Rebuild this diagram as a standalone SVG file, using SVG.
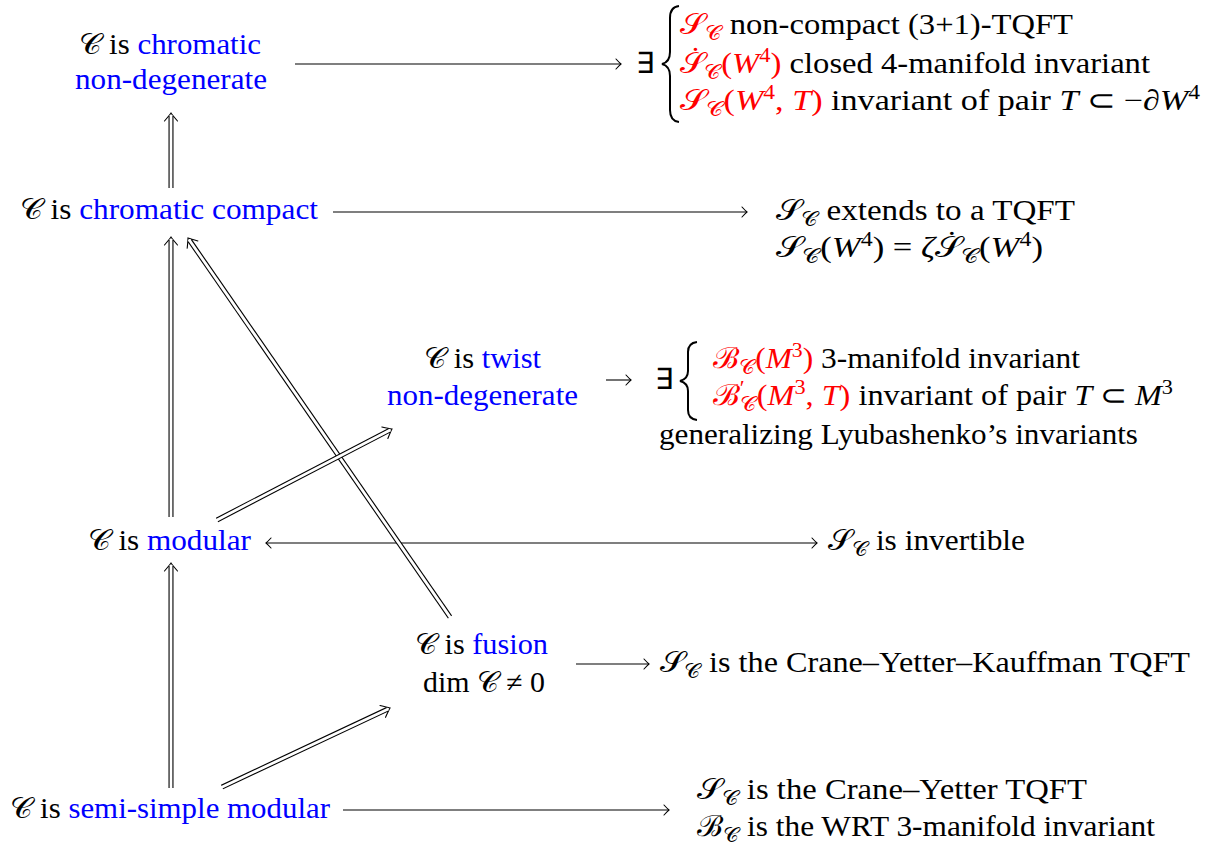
<svg xmlns="http://www.w3.org/2000/svg" width="1212" height="844" viewBox="0 0 1212 844" font-family="Liberation Serif, Times New Roman, serif">
<style>
.t{font-size:29px;fill:#000}
.b{fill:#0000ff}.r{fill:#ff0000}.i{font-style:italic}
.s{font-size:20px}
.ln{stroke:#000;stroke-width:1.1;fill:none}
.dbo{stroke:#000;stroke-width:5;fill:none}
.dbi{stroke:#fff;stroke-width:2.8;fill:none}
.br{stroke:#000;stroke-width:2;fill:none}
</style>
<defs>
<marker id="h" markerUnits="userSpaceOnUse" markerWidth="14" markerHeight="14" refX="0" refY="0" viewBox="-8 -7 10 14" orient="auto" overflow="visible">
<path d="M-5,-5 Q-1.5,-1.2 0,0 Q-1.5,1.2 -5,5" stroke="#000" stroke-width="1.1" fill="none" stroke-linecap="round"/>
</marker>
<marker id="hs" markerUnits="userSpaceOnUse" markerWidth="14" markerHeight="14" refX="0" refY="0" viewBox="-8 -7 10 14" orient="auto-start-reverse" overflow="visible">
<path d="M-5,-5 Q-1.5,-1.2 0,0 Q-1.5,1.2 -5,5" stroke="#000" stroke-width="1.1" fill="none" stroke-linecap="round"/>
</marker>
<marker id="dh" markerUnits="userSpaceOnUse" markerWidth="20" markerHeight="20" refX="-3" refY="0" viewBox="-12 -10 16 20" orient="auto" overflow="visible">
<path d="M-8,-6.5 Q-2.5,-1.8 0,0 Q-2.5,1.8 -8,6.5" stroke="#000" stroke-width="1.1" fill="none" stroke-linecap="round"/>
</marker>
</defs>

<g id="connectors">
<line class="ln" x1="295" y1="64" x2="621" y2="64" marker-end="url(#h)"/>
<line class="ln" x1="333" y1="212" x2="747" y2="212" marker-end="url(#h)"/>
<line class="ln" x1="606" y1="380" x2="631" y2="380" marker-end="url(#h)"/>
<line class="ln" x1="266" y1="543" x2="817" y2="543" marker-start="url(#hs)" marker-end="url(#hs)"/>
<line class="ln" x1="576" y1="664" x2="649" y2="664" marker-end="url(#h)"/>
<line class="ln" x1="343" y1="810" x2="669" y2="810" marker-end="url(#h)"/>
<g id="dA"><line class="dbo" x1="171" y1="188" x2="171" y2="116" marker-end="url(#dh)"/><line class="dbi" x1="171" y1="190" x2="171" y2="115"/></g>
<g id="dB"><line class="dbo" x1="171" y1="517" x2="171" y2="240" marker-end="url(#dh)"/><line class="dbi" x1="171" y1="519" x2="171" y2="239"/></g>
<g id="dC"><line class="dbo" x1="450" y1="617" x2="189.7" y2="240.5" marker-end="url(#dh)"/><line class="dbi" x1="451.1" y1="618.6" x2="189.1" y2="239.7"/></g>
<g id="dD"><line class="dbo" x1="217" y1="520" x2="389.3" y2="430.4" marker-end="url(#dh)"/><line class="dbi" x1="215.2" y1="520.9" x2="390.2" y2="429.9"/></g>
<g id="dE"><line class="dbo" x1="171" y1="788" x2="171" y2="566" marker-end="url(#dh)"/><line class="dbi" x1="171" y1="790" x2="171" y2="565"/></g>
<g id="dF"><line class="dbo" x1="222" y1="787" x2="387.3" y2="709.3" marker-end="url(#dh)"/><line class="dbi" x1="220.2" y1="787.9" x2="388.2" y2="708.9"/></g>
</g>

<g id="n-chromatic-nondeg">
<text class="t" font-family="Liberation Serif, Times New Roman, serif" x="79" y="54" textLength="182" lengthAdjust="spacingAndGlyphs">𝒞 is <tspan class="b">chromatic</tspan></text>
<text class="t b" font-family="Liberation Serif, Times New Roman, serif" x="75" y="89" textLength="192" lengthAdjust="spacingAndGlyphs">non-degenerate</text>
</g>
<g id="r-chromatic-nondeg">
<text class="t" font-family="Liberation Serif, Times New Roman, serif" x="636" y="73">∃</text>
<path class="br" d="M679,6 Q670,7 670,18 L670,52 Q670,62 662,64 Q670,66 670,76 L670,110 Q670,121 679,122"/>
<text class="t" font-family="Liberation Serif, Times New Roman, serif" x="680" y="34" textLength="393" lengthAdjust="spacingAndGlyphs"><tspan class="r">𝒮<tspan class="s" dy="6">𝒞</tspan></tspan><tspan dy="-6"> non-compact (3+1)-TQFT</tspan></text>
<text class="t" font-family="Liberation Serif, Times New Roman, serif" x="680" y="73" textLength="470" lengthAdjust="spacingAndGlyphs"><tspan class="r">𝒮<tspan dx="-13" dy="-5">˙</tspan><tspan class="s" dx="3" dy="11">𝒞</tspan><tspan dy="-6">(</tspan><tspan class="i">W</tspan><tspan class="s" dy="-11">4</tspan><tspan dy="11">)</tspan></tspan> closed 4-manifold invariant</text>
<text class="t" font-family="Liberation Serif, Times New Roman, serif" x="680" y="110" textLength="520" lengthAdjust="spacingAndGlyphs"><tspan class="r">𝒮<tspan class="s" dy="6">𝒞</tspan><tspan dy="-6">(</tspan><tspan class="i">W</tspan><tspan class="s" dy="-11">4</tspan><tspan dy="11">, </tspan><tspan class="i">T</tspan>)</tspan> invariant of pair <tspan class="i">T</tspan> ⊂ −∂<tspan class="i">W</tspan><tspan class="s" dy="-11">4</tspan></text>
</g>

<g id="n-chromatic-compact">
<text class="t" font-family="Liberation Serif, Times New Roman, serif" x="20" y="219" textLength="298" lengthAdjust="spacingAndGlyphs">𝒞 is <tspan class="b">chromatic compact</tspan></text>
</g>
<g id="r-chromatic-compact">
<text class="t" font-family="Liberation Serif, Times New Roman, serif" x="776" y="220" textLength="299" lengthAdjust="spacingAndGlyphs">𝒮<tspan class="s" dy="6">𝒞</tspan><tspan dy="-6"> extends to a TQFT</tspan></text>
<text class="t" font-family="Liberation Serif, Times New Roman, serif" x="776" y="257" textLength="267" lengthAdjust="spacingAndGlyphs">𝒮<tspan class="s" dy="6">𝒞</tspan><tspan dy="-6">(</tspan><tspan class="i">W</tspan><tspan class="s" dy="-11">4</tspan><tspan dy="11">) = </tspan><tspan class="i">ζ</tspan>𝒮<tspan dx="-13" dy="-5">˙</tspan><tspan class="s" dx="3" dy="11">𝒞</tspan><tspan dy="-6">(</tspan><tspan class="i">W</tspan><tspan class="s" dy="-11">4</tspan><tspan dy="11">)</tspan></text>
</g>

<g id="n-twist">
<text class="t" font-family="Liberation Serif, Times New Roman, serif" x="424" y="368" textLength="117" lengthAdjust="spacingAndGlyphs">𝒞 is <tspan class="b">twist</tspan></text>
<text class="t b" font-family="Liberation Serif, Times New Roman, serif" x="387" y="405" textLength="191" lengthAdjust="spacingAndGlyphs">non-degenerate</text>
</g>
<g id="r-twist">
<text class="t" font-family="Liberation Serif, Times New Roman, serif" x="655" y="389">∃</text>
<path class="br" d="M697,342 Q688,343 688,352 L688,371 Q688,379 680,381 Q688,383 688,391 L688,410 Q688,419 697,420"/>
<text class="t" font-family="Liberation Serif, Times New Roman, serif" x="713" y="368" textLength="367" lengthAdjust="spacingAndGlyphs"><tspan class="r">ℬ<tspan class="s" dy="6">𝒞</tspan><tspan dy="-6">(</tspan><tspan class="i">M</tspan><tspan class="s" dy="-11">3</tspan><tspan dy="11">)</tspan></tspan> 3-manifold invariant</text>
<text class="t" font-family="Liberation Serif, Times New Roman, serif" x="713" y="405" textLength="460" lengthAdjust="spacingAndGlyphs"><tspan class="r">ℬ<tspan class="s" dy="-10">′</tspan><tspan class="s" dx="-4" dy="16">𝒞</tspan><tspan dy="-6">(</tspan><tspan class="i">M</tspan><tspan class="s" dy="-11">3</tspan><tspan dy="11">, </tspan><tspan class="i">T</tspan>)</tspan> invariant of pair <tspan class="i">T</tspan> ⊂ <tspan class="i">M</tspan><tspan class="s" dy="-11">3</tspan></text>
<text class="t" font-family="Liberation Serif, Times New Roman, serif" x="659" y="444" textLength="479" lengthAdjust="spacingAndGlyphs">generalizing Lyubashenko’s invariants</text>
</g>

<g id="n-modular">
<text class="t" font-family="Liberation Serif, Times New Roman, serif" x="88" y="550" textLength="163" lengthAdjust="spacingAndGlyphs">𝒞 is <tspan class="b">modular</tspan></text>
</g>
<g id="r-modular">
<text class="t" font-family="Liberation Serif, Times New Roman, serif" x="828" y="550" textLength="197" lengthAdjust="spacingAndGlyphs">𝒮<tspan class="s" dy="6">𝒞</tspan><tspan dy="-6"> is invertible</tspan></text>
</g>

<g id="n-fusion">
<text class="t" font-family="Liberation Serif, Times New Roman, serif" x="415" y="654" textLength="133" lengthAdjust="spacingAndGlyphs">𝒞 is <tspan class="b">fusion</tspan></text>
<text class="t" font-family="Liberation Serif, Times New Roman, serif" x="423" y="692" textLength="122" lengthAdjust="spacingAndGlyphs">dim 𝒞 ≠ 0</text>
</g>
<g id="r-fusion">
<text class="t" font-family="Liberation Serif, Times New Roman, serif" x="660" y="672" textLength="530" lengthAdjust="spacingAndGlyphs">𝒮<tspan class="s" dy="6">𝒞</tspan><tspan dy="-6"> is the Crane–Yetter–Kauffman TQFT</tspan></text>
</g>

<g id="n-semisimple">
<text class="t" font-family="Liberation Serif, Times New Roman, serif" x="10" y="818" textLength="320" lengthAdjust="spacingAndGlyphs">𝒞 is <tspan class="b">semi-simple modular</tspan></text>
</g>
<g id="r-semisimple">
<text class="t" font-family="Liberation Serif, Times New Roman, serif" x="697" y="799" textLength="390" lengthAdjust="spacingAndGlyphs">𝒮<tspan class="s" dy="6">𝒞</tspan><tspan dy="-6"> is the Crane–Yetter TQFT</tspan></text>
<text class="t" font-family="Liberation Serif, Times New Roman, serif" x="697" y="836" textLength="458" lengthAdjust="spacingAndGlyphs">ℬ<tspan class="s" dy="6">𝒞</tspan><tspan dy="-6"> is the WRT 3-manifold invariant</tspan></text>
</g>
</svg>
